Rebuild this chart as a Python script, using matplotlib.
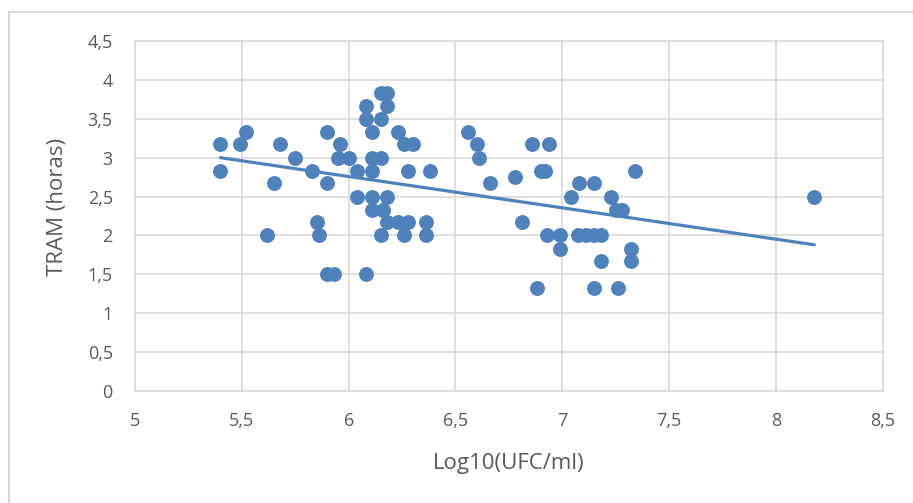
import numpy as np
import matplotlib
matplotlib.use("Agg")
import matplotlib.pyplot as plt
from matplotlib.patches import Rectangle

plt.rcParams['font.family'] = ['Open Sans', 'DejaVu Sans']

log_ufc = [5.40, 5.40, 5.49, 5.52, 5.65, 5.68, 5.62, 5.75, 5.83, 5.90,
           5.90, 5.85, 5.86, 5.96, 5.95, 6.00, 5.90, 5.93, 6.08, 6.04,
           6.04, 6.08, 6.08, 6.11, 6.11, 6.15, 6.11, 6.11, 6.18, 6.11,
           6.16, 6.15, 6.18, 6.18, 6.15, 6.18, 6.23, 6.28, 6.15, 6.26,
           6.23, 6.26, 6.30, 6.28, 6.38, 6.36, 6.36,
           6.56, 6.60, 6.61, 6.66, 6.78, 6.81, 6.86, 6.94, 6.90, 6.92,
           6.88, 6.93, 6.99, 6.99, 7.04, 7.08, 7.15, 7.075, 7.11, 7.15,
           7.18, 7.18, 7.15, 7.26, 7.23, 7.25, 7.28, 7.32, 7.32, 7.34, 8.18]
tram = [3.17, 2.83, 3.17, 3.33, 2.67, 3.17, 2.00, 3.00, 2.83, 3.33,
        2.67, 2.17, 2.00, 3.17, 3.00, 3.00, 1.50, 1.50, 1.50, 2.83,
        2.50, 3.67, 3.50, 3.33, 3.00, 3.00, 2.83, 2.50, 2.50, 2.33,
        2.33, 3.83, 3.83, 3.67, 3.50, 2.17, 2.17, 2.17, 2.00, 2.00,
        3.33, 3.17, 3.17, 2.83, 2.83, 2.17, 2.00,
        3.33, 3.17, 3.00, 2.67, 2.75, 2.17, 3.17, 3.17, 2.83, 2.83,
        1.33, 2.00, 2.00, 1.83, 2.50, 2.67, 2.67, 2.00, 2.00, 2.00,
        2.00, 1.67, 1.33, 1.33, 2.50, 2.33, 2.33, 1.83, 1.67, 2.83, 2.50]

x_ticks = [5, 5.5, 6, 6.5, 7, 7.5, 8, 8.5]
x_tick_labels = ['5', '5,5', '6', '6,5', '7', '7,5', '8', '8,5']
y_ticks = [0, 0.5, 1, 1.5, 2, 2.5, 3, 3.5, 4, 4.5]
y_tick_labels = ['0', '0,5', '1', '1,5', '2', '2,5', '3', '3,5', '4', '4,5']
x_title = 'Log10(UFC/ml)'
y_title = 'TRAM (horas)'

color = '#4F81BD'
grid_c = '#D9D9D9'
text_c = '#595959'

W, H = 913, 503
fig = plt.figure(figsize=(W / 100, H / 100), dpi=100)
ax = fig.add_axes([135 / W, 1 - 391 / H, (882.7 - 135) / W, (391 - 41) / H])

x = np.array(log_ufc)
y = np.array(tram)
ax.scatter(x, y, s=115, color=color, zorder=3, linewidths=0)
slope, intercept = np.polyfit(x, y, 1)
xl = np.array([x.min(), x.max()])
ax.plot(xl, slope * xl + intercept, color=color, lw=2.3, zorder=2, solid_capstyle='round')

ax.set_xlim(5, 8.5)
ax.set_ylim(0, 4.5)
ax.set_xticks(x_ticks)
ax.set_xticklabels(x_tick_labels)
ax.set_yticks(y_ticks)
ax.set_yticklabels(y_tick_labels)
ax.grid(True, color=grid_c, lw=1.2)
ax.set_axisbelow(True)
for s in ax.spines.values():
    s.set_color(grid_c)
    s.set_linewidth(1.2)
ax.tick_params(length=0, labelsize=13, colors=text_c)
ax.tick_params(axis='y', pad=16)
ax.tick_params(axis='x', pad=15)

fig.text(509 / W, 1 - 463 / H, x_title, fontsize=16, color=text_c,
         ha='center', va='center')
fig.text(57 / W, 1 - 207 / H, y_title, fontsize=16, color=text_c,
         ha='center', va='center', rotation=90)

fig.patches.append(Rectangle((9 / W, -0.05), 1.1, 1 - 12 / H + 0.05,
                             transform=fig.transFigure, fill=False,
                             edgecolor=grid_c, lw=1.5))

fig.savefig('out.png', dpi=100)
